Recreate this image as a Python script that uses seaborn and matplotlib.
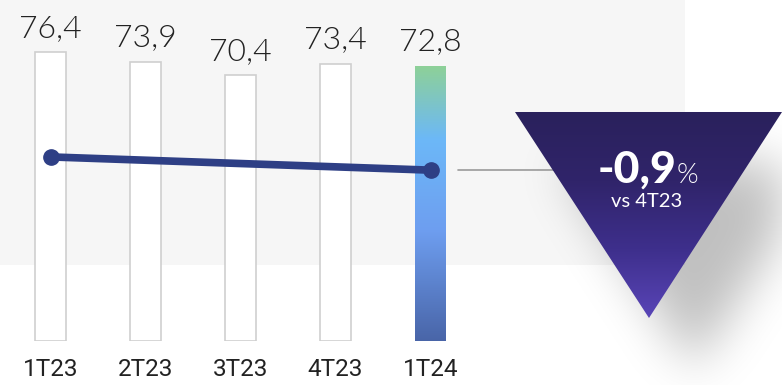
import numpy as np
import pandas as pd
import matplotlib
matplotlib.use("Agg")
import matplotlib.pyplot as plt
import seaborn as sns
from matplotlib.colors import LinearSegmentedColormap
from matplotlib.patches import Polygon, Rectangle

# ---- data ----
quarters = ["1T23", "2T23", "3T23", "4T23", "1T24"]
values = [76.4, 73.9, 70.4, 73.4, 72.8]
value_labels = ["76,4", "73,9", "70,4", "73,4", "72,8"]
line_quarters = ["1T23", "1T24"]
line_values = [48.7, 45.2]
delta_text = "-0,9"
delta_unit = "%"
delta_sub = "vs 4T23"

sns.set_theme(style="white")
plt.rcParams["font.family"] = ["Lato", "DejaVu Sans"]

W, H = 782, 385
fig = plt.figure(figsize=(W / 100, H / 100), dpi=100)
fig.patch.set_facecolor("white")

# ---- overlay axes in pixel coords (behind) ----
bg = fig.add_axes([0, 0, 1, 1], zorder=0)
bg.axis("off")
bg.add_patch(Rectangle((0, 0), 685, 265, facecolor="#F6F6F6", edgecolor="none", zorder=0))

# shadow of triangle
yy, xx = np.mgrid[0:H, 0:W]
tri = np.array([(515, 112), (782, 112), (649, 318)], dtype=float)
def tri_mask(pts, dx, dy):
    p = pts + np.array([dx, dy])
    def side(a, b):
        return (b[0] - a[0]) * (yy - a[1]) - (b[1] - a[1]) * (xx - a[0])
    s1, s2, s3 = side(p[0], p[1]), side(p[1], p[2]), side(p[2], p[0])
    return (((s1 >= 0) & (s2 >= 0) & (s3 >= 0)) | ((s1 <= 0) & (s2 <= 0) & (s3 <= 0))).astype(float)
m = tri_mask(tri, 45, 50)
sig = 24
k = np.exp(-0.5 * (np.arange(-3 * sig, 3 * sig + 1) / sig) ** 2)
k /= k.sum()
m = np.apply_along_axis(lambda r: np.convolve(r, k, mode="same"), 1, m)
m = np.apply_along_axis(lambda c: np.convolve(c, k, mode="same"), 0, m)
shadow = np.zeros((H, W, 4))
shadow[..., 3] = m * 0.25
bg.imshow(shadow, extent=(0, W, H, 0), zorder=1, interpolation="bilinear")

# connector line
bg.plot([458, 556], [170, 170], color="#9a9a9a", lw=1.2, zorder=2)

# triangle with gradient
tri_patch = Polygon(tri, closed=True, facecolor="none", edgecolor="none", zorder=3)
bg.add_patch(tri_patch)
tcmap = LinearSegmentedColormap.from_list("tri", ["#2A215C", "#30246A", "#3E2F8C", "#5945B7"])
grad = np.linspace(0, 1, 256).reshape(-1, 1)
im = bg.imshow(grad, cmap=tcmap, extent=(515, 782, 318, 112), aspect="auto", zorder=3)
im.set_clip_path(tri_patch)
bg.set_xlim(0, W)
bg.set_ylim(H, 0)

bg.text(676, 183, delta_text, color="white", fontsize=32, fontweight="black",
        ha="right", va="baseline", zorder=5)
bg.text(677, 183, delta_unit, color="white", fontsize=20, fontweight=300,
        ha="left", va="baseline", zorder=5)
bg.text(647, 207, delta_sub, color="white", fontsize=14.5, fontweight="normal",
        ha="center", va="baseline", zorder=5)

# ---- main chart axes ----
scale = 3.78  # px per unit
bottom_px = 44
ax = fig.add_axes([0, bottom_px / H, 1, 1 - bottom_px / H], zorder=1)
ax.patch.set_alpha(0)
df = pd.DataFrame({"q": quarters, "v": values})
sns.barplot(data=df, x="q", y="v", ax=ax, color="white", saturation=1,
            edgecolor="#cfcfcf", linewidth=1.2, width=0.326, errorbar=None)

# gradient last bar
p = ax.patches[4]
p.set_facecolor("none")
p.set_edgecolor("none")
x0, w = p.get_x(), p.get_width()
bcmap = LinearSegmentedColormap.from_list(
    "bar", [(0, "#8ED197"), (0.27, "#6CB8F8"), (0.6, "#6E9EF0"), (1, "#4965A8")])
g = np.linspace(0, 1, 256).reshape(-1, 1)
bim = ax.imshow(g, cmap=bcmap, extent=(x0, x0 + w, 0, values[4]), origin="upper",
                aspect="auto", zorder=2)
bim.set_clip_path(p)
ax.set_xlim(-50.5 / 95, (W - 50.5) / 95)
ax.set_ylim(0, (H - bottom_px) / scale)

# value labels
for i, (v, lab) in enumerate(zip(values, value_labels)):
    ax.annotate(lab, (i, v), xytext=(0, 11), textcoords="offset points",
                ha="center", va="baseline", fontsize=23, fontweight=300,
                color="#222222", zorder=6)

# line
lx = [quarters.index(q) for q in line_quarters]
ax.plot(lx, line_values, color="#2E3F85", lw=5.5, marker="o", markersize=11,
        solid_capstyle="round", zorder=5)

ax.set_xlabel("")
ax.set_ylabel("")
ax.set_yticks([])
ax.tick_params(axis="x", length=0, pad=12)
for t in ax.get_xticklabels():
    t.set_fontsize(17.5)
    t.set_color("#222222")
    t.set_fontfamily(["Liberation Sans Narrow", "Roboto", "DejaVu Sans"])
sns.despine(ax=ax, left=True, bottom=True)

fig.savefig("out.png", dpi=100, facecolor="white")
